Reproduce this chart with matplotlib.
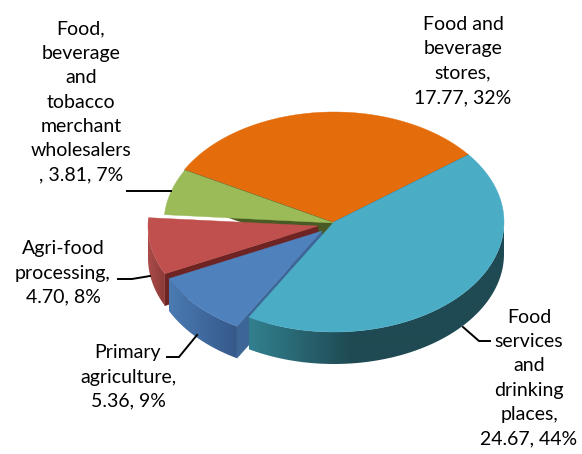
import numpy as np
import matplotlib
matplotlib.use('Agg')
import matplotlib.pyplot as plt
import matplotlib.colors as mcolors
from matplotlib.patches import Polygon

plt.rcParams['font.family'] = ['Lato', 'DejaVu Sans']

# Data
categorias = ['Food\nservices\nand\ndrinking\nplaces,\n', 'Primary\nagriculture,\n', 'Agri-food\nprocessing,\n',
              'Food,\nbeverage\nand\ntobacco\nmerchant\nwholesalers\n, ', 'Food and\nbeverage\nstores,\n']
valores = [24.67, 5.36, 4.70, 3.81, 17.77]
porcentajes = ['44%', '9%', '8%', '7%', '32%']

# Colours per slice: top, cut face, side left, side right
color_top = ['#4BACC6', '#4F81BD', '#C0504D', '#9BBB59', '#E46C0A']
color_cut = ['#1F4A53', '#3D6696', '#6E2423', '#4A5A25', '#8A4206']
color_side_a = ['#32808F', '#4A7BB2', '#AB4D4A', '#7C9647', '#B55608']
color_side_b = ['#1F4A53', '#36588A', '#8C3A38', '#5C7034', '#8A4206']
side_fade = [0.4, 1.0, 1.0, 1.0, 1.0]

# Pie geometry in pixels
cx, cy = 334, 222
rx, ry = 170, 110
depth = 32
start = 37.7
explode = [(0, 0), (-12, 9), (-16, 4), (0, 1), (0, 0)]

# Label centres and leader lines in pixels
label_pos = [(529, 378), (128, 377), (63, 273), (81, 102), (463, 61)]
leaders = [[(463, 327), (479, 341), (490, 341)],
           [(197, 335), (179, 357), (167, 357)],
           [(150, 276), (132, 279), (118, 279)],
           [(171, 191), (127, 191)]]

fig = plt.figure(figsize=(5.82, 4.54), dpi=100)
ax = fig.add_axes([0, 0, 1, 1])
ax.axis('off')

total = sum(valores)
bordes = start - np.cumsum([0] + valores) / total * 360


def rim(ang, ox, oy):
    a = np.radians(ang)
    return cx + ox + rx * np.cos(a), cy + oy - ry * np.sin(a)


# Painter order: orange at the back, teal last
for i in [4, 3, 2, 1, 0]:
    a0, a1 = bordes[i], bordes[i + 1]  # a0 > a1, clockwise
    ox, oy = explode[i]
    tip = (cx + ox, cy + oy)
    z = 20 - 3 * i

    # Cut face on the right hand edge of the slice
    ang_cut = a1 if i == 3 else a0
    p = rim(ang_cut, ox, oy)
    ax.add_patch(Polygon([tip, p, (p[0], p[1] + depth), (tip[0], tip[1] + depth)],
                         closed=True, fc=color_cut[i], ec=color_cut[i], lw=0.3, zorder=z))

    # Outer wall, only the front half of the ellipse, gradient along x
    lo, hi = max(a1, -180), min(a0, 0)
    if hi > lo and i in (0, 1, 2):
        angs = np.linspace(lo, hi, 200)
        borde = np.array([rim(a, ox, oy) for a in angs])
        pared = np.vstack([borde, borde[::-1] + [0, depth]])
        poly = Polygon(pared, closed=True, fc='none', ec='none', transform=ax.transData)
        ax.add_patch(poly)
        x0, x1 = borde[:, 0].min(), borde[:, 0].max()
        t = np.clip(np.linspace(0, 1, 256) / side_fade[i], 0, 1)[None, :, None]
        ca = np.array(mcolors.to_rgb(color_side_a[i]))
        cb = np.array(mcolors.to_rgb(color_side_b[i]))
        grad = ca + (cb - ca) * t
        im = ax.imshow(grad, extent=(x0, x1, borde[:, 1].max() + depth, borde[:, 1].min()),
                       aspect='auto', zorder=z + 1, interpolation='bilinear')
        im.set_clip_path(poly)

    # Top face
    angs = np.linspace(a0, a1, 200)
    pts = [tip] + [rim(a, ox, oy) for a in angs]
    ax.add_patch(Polygon(pts, closed=True, fc=color_top[i], ec=color_top[i], lw=0.3, zorder=z + 2))

ax.set_xlim(0, 582)
ax.set_ylim(454, 0)

for linea in leaders:
    xs, ys = zip(*linea)
    ax.plot(xs, ys, color='black', lw=1.4, zorder=30, solid_joinstyle='miter')

for cat, val, pct, pos in zip(categorias, valores, porcentajes, label_pos):
    ax.text(pos[0], pos[1], f'{cat}{val:.2f}, {pct}', ha='center', va='center', fontsize=14,
            color='black', linespacing=1.52, zorder=31)

fig.savefig('out.png', dpi=100)
